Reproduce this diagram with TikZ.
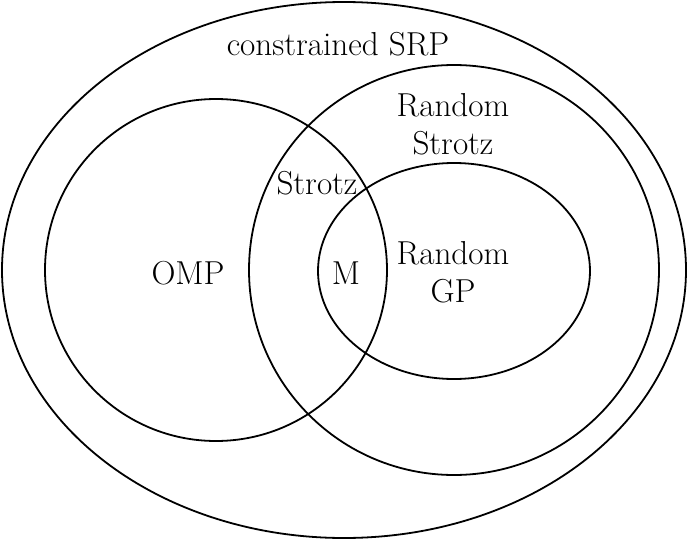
\documentclass[tikz,border=0pt]{standalone}
\begin{document}
\begin{tikzpicture}[x=0.5pt,y=-0.5pt,line width=0.9pt,
  lbl/.style={font=\fontsize{16.6}{19}\selectfont,align=center,inner sep=0pt}]
\useasboundingbox (0,0) rectangle (687,541);
\draw (344,270) ellipse [x radius=342, y radius=268];
\draw (216,270) circle [radius=171];
\draw (454,270) circle [radius=205];
\draw (454,271) ellipse [x radius=136, y radius=108];
\node[lbl] (srp) at (338,44) {constrained SRP};
\node[lbl] (rs) at (453,124) {Random\\Strotz};
\node[lbl] (s) at (317,183) {Strotz};
\node[lbl] (omp) at (188,273) {OMP};
\node[lbl] (m) at (346,273) {M};
\node[lbl] (rgp) at (453,272) {Random\\GP};
\end{tikzpicture}
\end{document}
